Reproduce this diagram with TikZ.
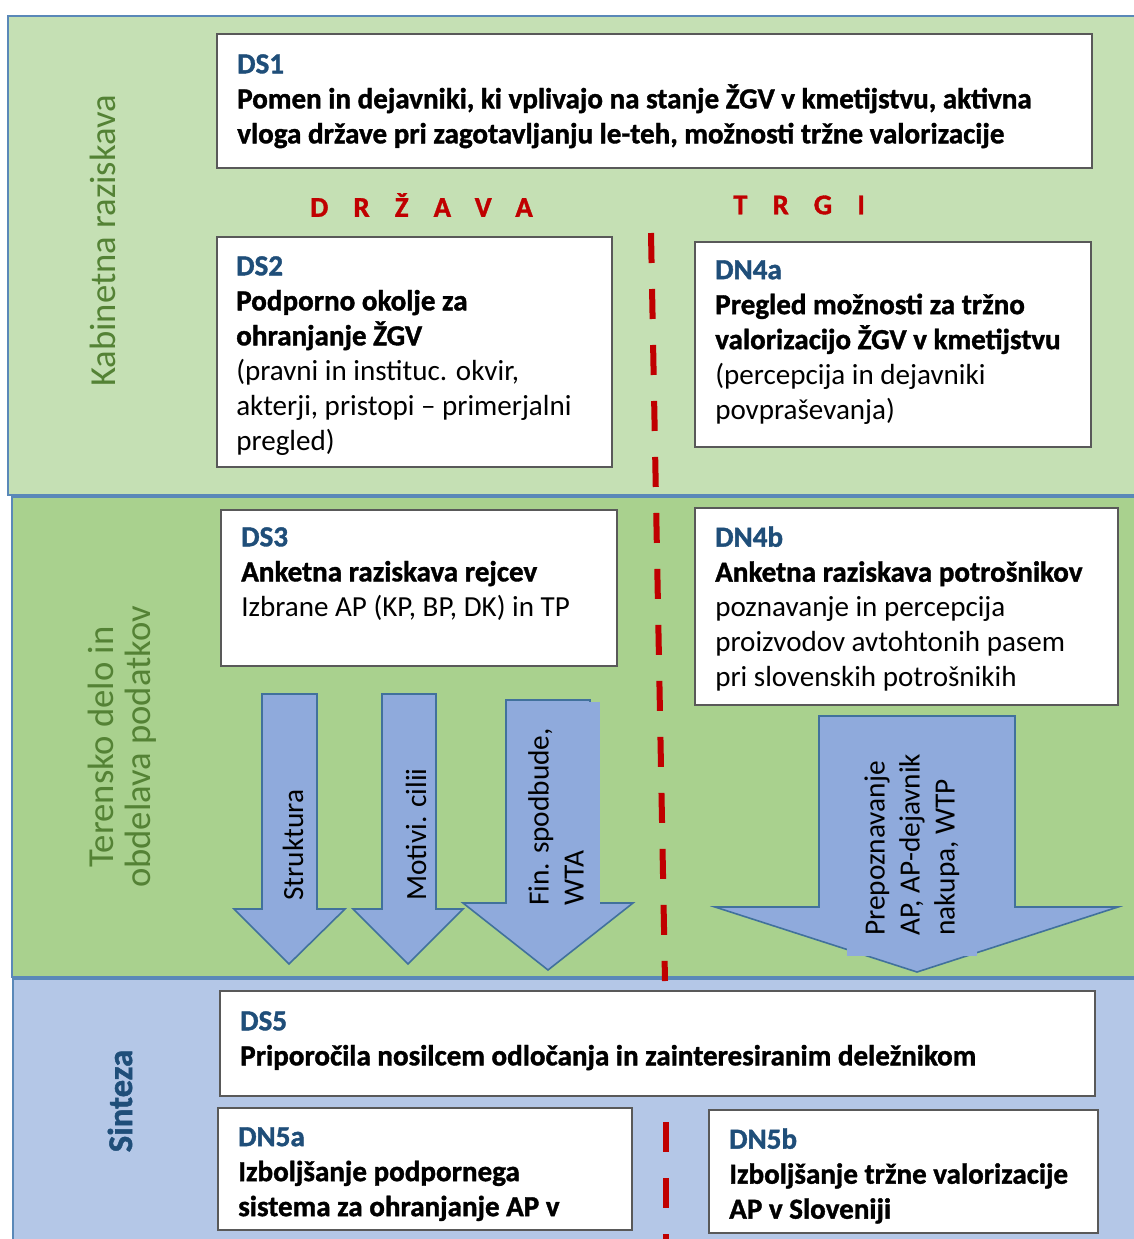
\documentclass[tikz,border=0pt]{standalone}
\usepackage{fontspec}
\setmainfont{Carlito}[BoldFeatures={FakeBold=1.3}]
\usetikzlibrary{fit}
\definecolor{kabgreen}{HTML}{C5E0B4}
\definecolor{tergreen}{HTML}{A9D18E}
\definecolor{sinblue}{HTML}{B4C7E7}
\definecolor{bandline}{HTML}{5A88B8}
\definecolor{arrowfill}{HTML}{8FAADC}
\definecolor{arrowline}{HTML}{41719C}
\definecolor{dsblue}{HTML}{1F4E79}
\definecolor{darkred}{HTML}{C00000}
\definecolor{labgreen}{HTML}{548235}
\definecolor{boxline}{HTML}{595959}

\begin{document}
\begin{tikzpicture}[x=0.75pt,y=-0.75pt,
band/.style={draw=bandline,line width=1.5pt},
box/.style={
rectangle,
draw=boxline,
line width=0.9pt,
fill=white,
inner sep=0pt
},
txt/.style={anchor=north west,align=left,inner sep=0pt,font=\fontsize{21.8}{26.25}\selectfont\bfseries},
side/.style={rotate=90,align=center,inner sep=0pt,font=\fontsize{27.5}{28}\selectfont},
blockarrow/.style={fill=arrowfill,draw=arrowline,line width=1.2pt,line join=miter},
arrowtxt/.style={rotate=90,anchor=west,align=left,inner sep=0pt,font=\fontsize{22}{26.25}\selectfont},
divider/.style={draw=darkred,line width=4.5pt,dash pattern=on 22.5pt off 19.5pt},
country/.style={anchor=west,inner sep=0pt,text=darkred,font=\fontsize{21.5}{26}\selectfont\bfseries\addfontfeatures{LetterSpace=88}}
]
\useasboundingbox (0,0) rectangle (1134,1239);

\draw[band,fill=kabgreen] (8,16) rectangle (1145,495);
\draw[band,fill=tergreen] (12,497) rectangle (1145,977);
\draw[band,fill=sinblue] (13,979) rectangle (1145,1250);

\node (kabinet) [side,text=labgreen] at (103,241) {Kabinetna raziskava};
\node (teren) [side,text=labgreen] at (122,747) {Terensko delo in\\obdelava podatkov};
\node (sinteza) [side,text=dsblue,font=\fontsize{26}{28}\selectfont\bfseries] at (120,1101) {Sinteza};

\coordinate (divtop) at (651,233);
\coordinate (divmid) at (665,981);
\coordinate (divlow) at (666,1122);
\coordinate (divend) at (666,1245);
\draw[divider] (divtop) -- (divmid);
\draw[divider] (divlow) -- (divend);

\node (ds1) [box,fit={(217,34) (1092,168)}] {};
\node (ds1txt) [txt] at (237,54) {\textcolor{dsblue}{DS1}\\Pomen in dejavniki, ki vplivajo na stanje ŽGV v kmetijstvu, aktivna\\vloga države pri zagotavljanju le-teh, možnosti tržne valorizacije};

\node (drzava) [country] at (310,205) {DRŽAVA};
\node (trgi) [country] at (733,205) {TRGI};

\node (ds2) [box,fit={(217,237) (612,467)}] {};
\node (ds2txt) [txt] at (236,256) {\textcolor{dsblue}{DS2}\\Podporno okolje za\\ohranjanje ŽGV\\\mdseries(pravni in instituc. okvir,\\\mdseries akterji, pristopi -- primerjalni\\\mdseries pregled)};

\node (dn4a) [box,fit={(695,242) (1091,447)}] {};
\node (dn4atxt) [txt] at (715,260) {\textcolor{dsblue}{DN4a}\\Pregled možnosti za tržno\\valorizacijo ŽGV v kmetijstvu\\\mdseries(percepcija in dejavniki\\\mdseries povpraševanja)};

\node (ds3) [box,fit={(221,510) (617,666)}] {};
\node (ds3txt) [txt] at (241,527) {\textcolor{dsblue}{DS3}\\Anketna raziskava rejcev\\\mdseries Izbrane AP (KP, BP, DK) in TP};

\node (dn4b) [box,fit={(695,508) (1118,705)}] {};
\node (dn4btxt) [txt] at (715,526) {\textcolor{dsblue}{DN4b}\\Anketna raziskava potrošnikov\\\mdseries poznavanje in percepcija\\\mdseries proizvodov avtohtonih pasem\\\mdseries pri slovenskih potrošnikih};

\draw[blockarrow] (262,694) -- (317,694) -- (317,909) -- (345,909) -- (289,964) -- (234,909) -- (262,909) -- cycle;
\draw[blockarrow] (382,694) -- (436,694) -- (436,909) -- (463,909) -- (408,964) -- (353,909) -- (382,909) -- cycle;
\draw[blockarrow] (506,700) -- (590,700) -- (590,903) -- (633,903) -- (548,970) -- (463,903) -- (506,903) -- cycle;
\fill[arrowfill] (508,702) rectangle (600,904);
\draw[blockarrow] (819,716) -- (1015,716) -- (1015,907) -- (1118,907) -- (917,972) -- (715,907) -- (819,907) -- cycle;
\fill[arrowfill] (847,717) rectangle (977,956);

\node (struktura) [arrowtxt] at (293,901) {Struktura};
\node (motivi) [arrowtxt] at (416,901) {Motivi. cilii};
\node (finance) [arrowtxt] at (556,906) {Fin. spodbude,\\WTA};
\node (prepoz) [arrowtxt] at (912,936) {Prepoznavanje\\AP, AP-dejavnik\\nakupa, WTP};

\node (ds5) [box,fit={(220,991) (1095,1096)}] {};
\node (ds5txt) [txt] at (240,1011) {\textcolor{dsblue}{DS5}\\Priporočila nosilcem odločanja in zainteresiranim deležnikom};

\node (dn5a) [box,fit={(218,1108) (632,1230)}] {};
\node (dn5atxt) [txt] at (238,1127) {\textcolor{dsblue}{DN5a}\\Izboljšanje podpornega\\sistema za ohranjanje AP v};

\node (dn5b) [box,fit={(709,1110) (1098,1233)}] {};
\node (dn5btxt) [txt] at (729,1128) {\textcolor{dsblue}{DN5b}\\Izboljšanje tržne valorizacije\\AP v Sloveniji};
\end{tikzpicture}
\end{document}
